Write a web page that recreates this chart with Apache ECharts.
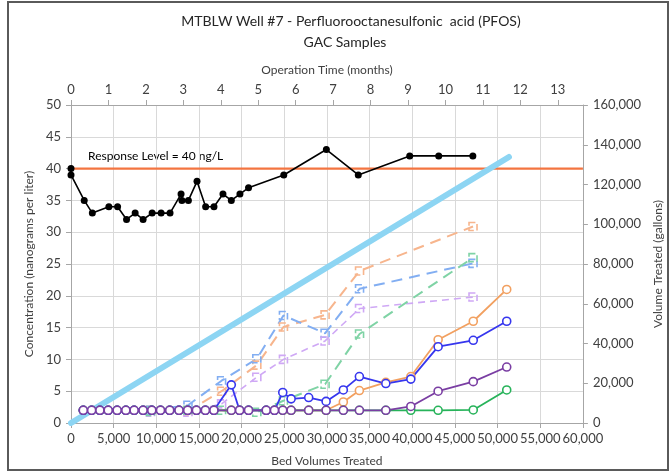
<!DOCTYPE html>
<html>
<head>
<meta charset="utf-8">
<script src="https://cdn.jsdelivr.net/npm/echarts@6/dist/echarts.min.js"></script>
<style>
  html, body { margin: 0; padding: 0; background: #fff; }
  #wrap { position: relative; width: 672px; height: 472px; }
  #chart { position: absolute; left: 0; top: 0; width: 672px; height: 472px; }
  #frame { position: absolute; left: 7px; top: 1px; width: 658px; height: 466px; border: 2px solid #5a5a5a; pointer-events: none; }
</style>
</head>
<body>
<div id="wrap"><div id="chart"></div><div id="frame"></div></div>
<script>
// ---- Data ----
const titleLine1 = 'MTBLW Well #7 - Perfluorooctanesulfonic  acid (PFOS)';
const titleLine2 = 'GAC Samples';
const responseLevel = 40;
const responseLabel = 'Response Level = 40 ng/L';

// Influent (black) concentrations vs bed volumes
const bvInfluent = [0, 0, 1550, 2500, 4440, 5460, 6510, 7520, 8450, 9510, 10560, 11610, 12900, 13000, 13760, 14770, 15780, 16760, 17810, 18790, 19800, 20810, 24940, 29930, 33670, 39700, 43100, 47100];
const influent   = [40, 39, 35, 33, 34, 34, 32, 33, 32, 33, 33, 33, 36, 35, 35, 38, 34, 34, 36, 35, 36, 37, 39, 43, 39, 42, 42, 42];

// Solid circle series (shared bed-volume sampling)
const bvCircle = [1440, 2420, 3390, 4360, 5410, 6430, 7400, 8450, 9470, 10490, 11570, 12660, 13680, 14700, 15750, 16750, 18790, 19760, 20810, 22880, 23850, 24820, 25800, 27860, 29900, 31920, 33800, 36900, 39830, 43030, 47150, 51070];
const blueCircle   = [2,2,2,2,2,2,2,2,2,2,2,2,2,2,2,2, 6.0, 2,2,2,2, 4.8, 3.8, 4.0, 3.4, 5.2, 7.3, 6.2, 6.9, 12.0, 13.0, 16.0];
const orangeCircle = [2,2,2,2,2,2,2,2,2,2,2,2,2,2,2,2, 2, 2,2,2,2, 2, 2, 2, 2, 3.3, 5.1, 6.4, 7.3, 13.1, 16.0, 21.0];
const greenCircle  = [2,2,2,2,2,2,2,2,2,2,2,2,2,2,2,2, 2, 2,2,2,2, 2, 2, 2, 2, 2, 2, 2, 2, 2, 2.05, 5.2];
const purpleCircle = [2,2,2,2,2,2,2,2,2,2,2,2,2,2,2,2, 2, 2,2,2,2, 2, 2, 2, 2, 2, 2, 2, 2.6, 5.0, 6.5, 8.8];

// Dashed square series
const bvSquare = [9320, 13710, 17650, 21780, 24900, 29780, 33820, 47120];
const lightOrangeSq = [2.0, 1.9, 5.0, 9.1, 15.1, 17.0, 23.9, 30.9];
const lightBlueSq   = [2.0, 2.8, 6.65, 10.1, 16.9, 14.1, 21.1, 25.1];
const lightPurpleSq = [1.7, 1.7, 3.0, 7.2, 10.0, 12.9, 18.0, 19.8];
const lightGreenSq  = [1.8, 2.0, 2.0, 1.7, 3.5, 6.1, 14.0, 26.0];

// Volume treated (gallons, right axis)
const bvVolume = [0, 51330];
const volume   = [0, 133850];

// Axis ranges / ticks
const bvMin = 0, bvMax = 60000, bvStep = 5000;
const monthsMax = 13.67, monthStep = 1;
const concMin = 0, concMax = 50, concStep = 5;
const galMin = 0, galMax = 160000, galStep = 20000;

// ---- Helpers ----
const zip = (xs, ys) => xs.map((x, i) => [x, ys[i]]);
const fmt = v => String(v).replace(/\B(?=(\d{3})+(?!\d))/g, ',');
const FONT = 'Lato';
const txt = '#404040';
const TICK_FS = 13;

function circleSeries(name, color, ys) {
  return {
    name, type: 'line', xAxisIndex: 0, yAxisIndex: 0, data: zip(bvCircle, ys),
    symbol: 'circle', symbolSize: 8, showSymbol: true,
    lineStyle: { color, width: 1.8 },
    itemStyle: { color: '#fff', borderColor: color, borderWidth: 1.6 },
    emphasis: { disabled: true }, animation: false, z: 5
  };
}
function squareSeries(name, color, ys, dash, width) {
  return {
    name, type: 'line', xAxisIndex: 0, yAxisIndex: 0, data: zip(bvSquare, ys),
    symbol: 'rect', symbolSize: 8, showSymbol: true,
    lineStyle: { color, width: width, type: dash },
    itemStyle: { color: 'rgba(255,255,255,0)', borderColor: color, borderWidth: 1.6, borderType: 'dashed' },
    emphasis: { disabled: true }, animation: false, z: 4
  };
}

const chart = echarts.init(document.getElementById('chart'), null, { renderer: 'canvas' });
chart.setOption({
  animation: false,
  backgroundColor: '#fff',
  textStyle: { fontFamily: FONT },
  title: [
    { text: titleLine1, left: 346, top: 9, textAlign: 'center',
      textStyle: { fontFamily: FONT, fontSize: 14, fontWeight: 'normal', color: '#262626' } },
    { text: titleLine2, left: 340, top: 30, textAlign: 'center',
      textStyle: { fontFamily: FONT, fontSize: 14, fontWeight: 'normal', color: '#262626' } }
  ],
  grid: { left: 71, right: 86, top: 105, bottom: 46 },
  graphic: [{
    type: 'text', left: 88, top: 150,
    style: { text: responseLabel, fontFamily: FONT, fontSize: 12, fill: '#000' }
  }],
  xAxis: [
    {
      type: 'value', position: 'bottom', min: bvMin, max: bvMax, interval: bvStep,
      name: 'Bed Volumes Treated', nameLocation: 'middle', nameGap: 32,
      nameTextStyle: { fontFamily: FONT, fontSize: 12, color: txt },
      axisLine: { show: true, onZero: false, lineStyle: { color: '#a6a6a6' } },
      axisTick: { show: true, length: 5, lineStyle: { color: '#a6a6a6' } },
      axisLabel: { fontFamily: FONT, fontSize: TICK_FS, color: txt, margin: 9, formatter: fmt },
      splitLine: { show: true, lineStyle: { color: '#d9d9d9', width: 1 } }
    },
    {
      type: 'value', position: 'top', min: 0, max: monthsMax, interval: monthStep,
      name: 'Operation Time (months)', nameLocation: 'middle', nameGap: 29,
      nameTextStyle: { fontFamily: FONT, fontSize: 12, color: txt },
      axisLine: { show: true, onZero: false, lineStyle: { color: '#a6a6a6' } },
      axisTick: { show: true, length: 5, lineStyle: { color: '#a6a6a6' } },
      axisLabel: { fontFamily: FONT, fontSize: TICK_FS, color: txt, margin: 9, showMaxLabel: false },
      splitLine: { show: false }
    }
  ],
  yAxis: [
    {
      type: 'value', position: 'left', min: concMin, max: concMax, interval: concStep,
      name: 'Concentration (nanograms per liter)', nameLocation: 'middle', nameGap: 34, nameRotate: 90,
      nameTextStyle: { fontFamily: FONT, fontSize: 12, color: txt },
      axisLine: { show: true, onZero: false, lineStyle: { color: '#a6a6a6' } },
      axisTick: { show: true, length: 5, lineStyle: { color: '#a6a6a6' } },
      axisLabel: { fontFamily: FONT, fontSize: TICK_FS, color: txt, margin: 10 },
      splitLine: { show: true, lineStyle: { color: '#d9d9d9', width: 1 } }
    },
    {
      type: 'value', position: 'right', min: galMin, max: galMax, interval: galStep,
      name: 'Volume Treated (gallons)', nameLocation: 'middle', nameGap: 66, nameRotate: 90,
      nameTextStyle: { fontFamily: FONT, fontSize: 12, color: txt },
      axisLine: { show: true, onZero: false, lineStyle: { color: '#a6a6a6' } },
      axisTick: { show: true, length: 5, lineStyle: { color: '#a6a6a6' } },
      axisLabel: { fontFamily: FONT, fontSize: TICK_FS, color: txt, margin: 10, formatter: fmt },
      splitLine: { show: false }
    }
  ],
  series: [
    {
      name: 'Response Level', type: 'line', xAxisIndex: 0, yAxisIndex: 0,
      data: [[bvMin, responseLevel], [bvMax, responseLevel]], showSymbol: false, symbol: 'none',
      lineStyle: { color: '#f37440', width: 2.2 }, z: 2, emphasis: { disabled: true }
    },
    {
      name: 'Volume Treated', type: 'line', xAxisIndex: 0, yAxisIndex: 1,
      data: zip(bvVolume, volume), showSymbol: false, symbol: 'none',
      lineStyle: { color: '#8dd5f3', width: 6, cap: 'round' }, z: 3, emphasis: { disabled: true }
    },
    squareSeries('Lead (split)', '#f7b58d', lightOrangeSq, [11, 7], 2),
    squareSeries('Lag (split)', '#82aef2', lightBlueSq, [11, 7], 2),
    squareSeries('Lead2 (split)', '#cfa8f5', lightPurpleSq, [7, 5], 1.6),
    squareSeries('Lag2 (split)', '#7fd3a5', lightGreenSq, [11, 7], 2),
    circleSeries('Orange', '#f2a060', orangeCircle),
    circleSeries('Green', '#27b35a', greenCircle),
    circleSeries('Blue', '#3636ee', blueCircle),
    circleSeries('Purple', '#7a3ea3', purpleCircle),
    {
      name: 'Influent', type: 'line', xAxisIndex: 0, yAxisIndex: 0,
      data: zip(bvInfluent, influent), symbol: 'circle', symbolSize: 7, showSymbol: true,
      lineStyle: { color: '#000', width: 1.6 }, itemStyle: { color: '#000' }, z: 6,
      emphasis: { disabled: true }
    }
  ]
});
</script>
</body>
</html>
